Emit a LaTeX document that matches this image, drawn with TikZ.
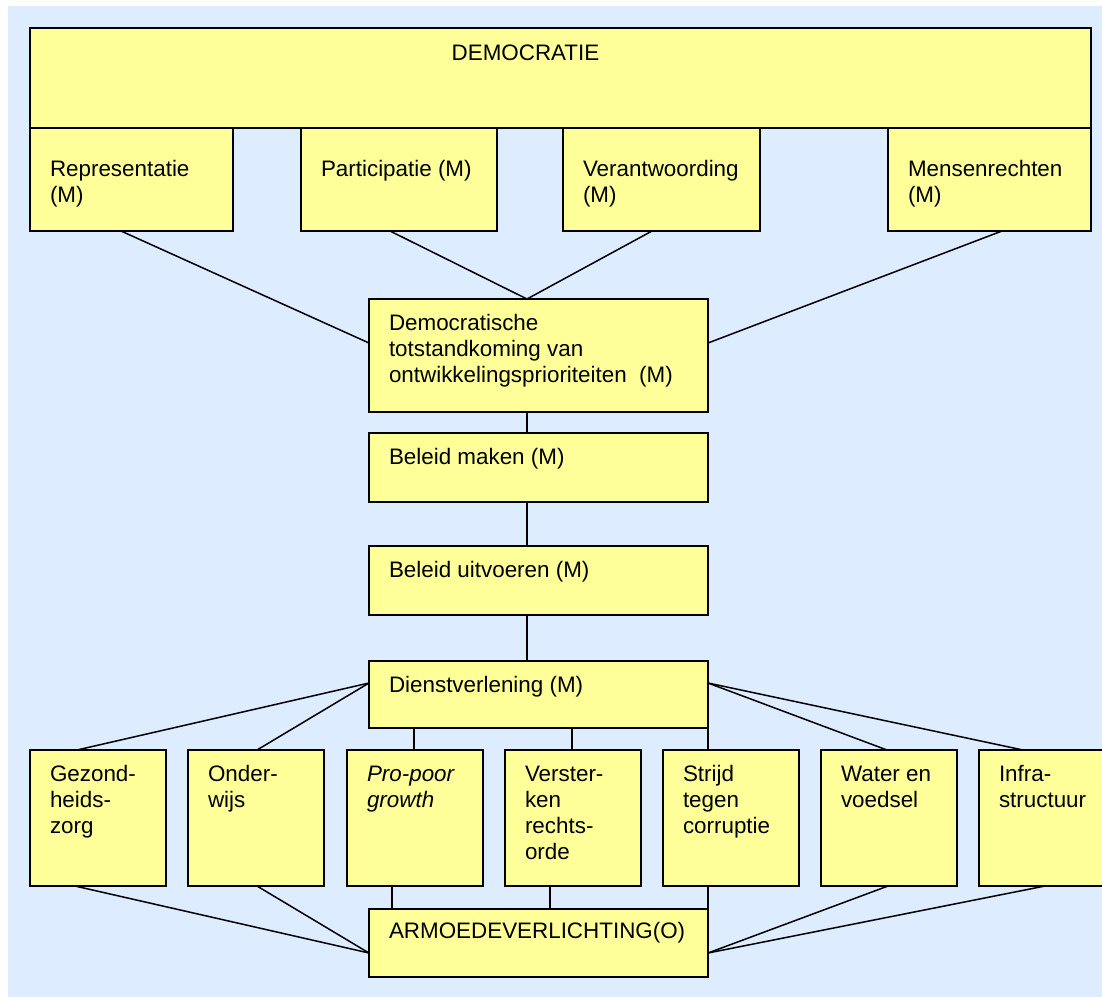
\documentclass[tikz,border=0pt]{standalone}
\usepackage{fontspec}
\setmainfont{Liberation Sans}
\usetikzlibrary{fit,calc}
\definecolor{bgblue}{RGB}{221,236,255}
\definecolor{boxyellow}{RGB}{255,255,153}
\newcommand{\mybox}[5]{\node[box, fit={(#2,#3) (#4,#5)}] (#1) {};}
\begin{document}
\begin{tikzpicture}[x=1pt,y=-1pt,
  box/.style={draw=black, fill=boxyellow, line width=1.6pt, inner sep=0pt, outer sep=0pt},
  txt/.style={anchor=north west, inner sep=0pt, outer sep=0pt, align=left, font=\fontsize{22.4}{26}\selectfont},
  conn/.style={draw=black, line width=1.5pt}]
\useasboundingbox (0,0) rectangle (1102,996);
\fill[bgblue] (8,6) rectangle (1106,1000);
% boxes
\mybox{dem}{30}{28}{1091}{128}
\mybox{rep}{30}{128}{233}{231}
\mybox{par}{301}{128}{497}{231}
\mybox{ver}{563}{128}{760}{231}
\mybox{men}{888}{128}{1091}{231}
\mybox{dtp}{369}{299}{708}{412}
\mybox{bm}{369}{433}{708}{502}
\mybox{bu}{369}{546}{708}{615}
\mybox{dv}{369}{661}{708}{728}
\mybox{gez}{30}{750}{166}{886}
\mybox{ond}{188}{750}{324}{886}
\mybox{pro}{347}{750}{483}{886}
\mybox{vst}{505}{750}{641}{886}
\mybox{str}{663}{750}{799}{886}
\mybox{wat}{821}{750}{957}{886}
\mybox{inf}{979}{750}{1110}{886}
\mybox{arm}{369}{909}{708}{977}
% texts
\node[txt, anchor=north] (demT) at ([shift={(-35pt,-13.8pt)}]dem.north) {\strut DEMOCRATIE};
\node[txt] (repT) at ([shift={(20pt,-29.8pt)}]rep.north west) {\strut Representatie\\(M)};
\node[txt] (parT) at ([shift={(20pt,-29.8pt)}]par.north west) {\strut Participatie (M)};
\node[txt] (verT) at ([shift={(20pt,-29.8pt)}]ver.north west) {\strut Verantwoording\\(M)};
\node[txt] (menT) at ([shift={(20pt,-29.8pt)}]men.north west) {\strut Mensenrechten\\(M)};
\node[txt] (dtpT) at ([shift={(20pt,-12.8pt)}]dtp.north west) {\strut Democratische\\totstandkoming van\\ontwikkelingsprioriteiten\ \ (M)};
\node[txt] (bmT) at ([shift={(20pt,-12.8pt)}]bm.north west) {\strut Beleid maken (M)};
\node[txt] (buT) at ([shift={(20pt,-12.8pt)}]bu.north west) {\strut Beleid uitvoeren (M)};
\node[txt] (dvT) at ([shift={(20pt,-12.8pt)}]dv.north west) {\strut Dienstverlening (M)};
\node[txt] (gezT) at ([shift={(20pt,-12.8pt)}]gez.north west) {\strut Gezond-\\heids-\\zorg};
\node[txt] (ondT) at ([shift={(20pt,-12.8pt)}]ond.north west) {\strut Onder-\\wijs};
\node[txt] (proT) at ([shift={(20pt,-12.8pt)}]pro.north west) {\strut\itshape Pro-poor\\\itshape growth};
\node[txt] (vstT) at ([shift={(20pt,-12.8pt)}]vst.north west) {\strut Verster-\\ken\\rechts-\\orde};
\node[txt] (strT) at ([shift={(20pt,-12.8pt)}]str.north west) {\strut Strijd\\tegen\\corruptie};
\node[txt] (watT) at ([shift={(20pt,-12.8pt)}]wat.north west) {\strut Water en\\voedsel};
\node[txt] (infT) at ([shift={(20pt,-12.8pt)}]inf.north west) {\strut Infra-\\structuur};
\node[txt] (armT) at ([shift={(20pt,-10.8pt)}]arm.north west) {\strut ARMOEDEVERLICHTING(O)};
% connectors top
\draw[conn] ([xshift=91pt]rep.south west) -- ([yshift=-44pt]dtp.north west);
\draw[conn] ([xshift=89pt]par.south west) -- ([xshift=158pt]dtp.north west);
\draw[conn] ([xshift=89pt]ver.south west) -- ([xshift=158pt]dtp.north west);
\draw[conn] ([xshift=114pt]men.south west) -- ([yshift=-44pt]dtp.north east);
% vertical chain
\draw[conn] ([xshift=158pt]dtp.south west) -- ([xshift=158pt]bm.north west);
\draw[conn] ([xshift=158pt]bm.south west) -- ([xshift=158pt]bu.north west);
\draw[conn] ([xshift=158pt]bu.south west) -- ([xshift=158pt]dv.north west);
% dienstverlening to bottom row
\draw[conn] ([yshift=-22pt]dv.north west) -- ([xshift=47pt]gez.north west);
\draw[conn] ([yshift=-22pt]dv.north west) -- ([xshift=69pt]ond.north west);
\draw[conn] ([xshift=45pt]dv.south west) -- ([xshift=67pt]pro.north west);
\draw[conn] ([xshift=203pt]dv.south west) -- ([xshift=67pt]vst.north west);
\draw[conn] (dv.south east) -- ([xshift=45pt]str.north west);
\draw[conn] ([yshift=-22pt]dv.north east) -- ([xshift=66pt]wat.north west);
\draw[conn] ([yshift=-22pt]dv.north east) -- ([xshift=44pt]inf.north west);
% bottom row to armoedeverlichting
\draw[conn] ([xshift=45pt]gez.south west) -- ([yshift=-44pt]arm.north west);
\draw[conn] ([xshift=69pt]ond.south west) -- ([yshift=-44pt]arm.north west);
\draw[conn] ([xshift=45pt]pro.south west) -- ([xshift=23pt]arm.north west);
\draw[conn] ([xshift=45pt]vst.south west) -- ([xshift=181pt]arm.north west);
\draw[conn] ([xshift=45pt]str.south west) -- (arm.north east);
\draw[conn] ([xshift=67pt]wat.south west) -- ([yshift=-44pt]arm.north east);
\draw[conn] ([xshift=66pt]inf.south west) -- ([yshift=-44pt]arm.north east);
\end{tikzpicture}
\end{document}
